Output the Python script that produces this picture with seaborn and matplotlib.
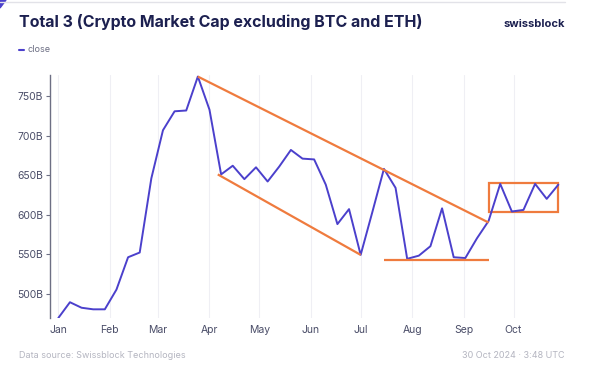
import pandas as pd
import matplotlib
matplotlib.use('Agg')
import matplotlib.pyplot as plt
import matplotlib.dates as mdates
from matplotlib.patches import Rectangle, Polygon
import seaborn as sns

# Weekly close of Total 3 (billions USD), 2024
weeks = pd.date_range("2024-01-01", "2024-10-28", freq="7D")
close = [469, 489, 482, 480, 480, 505, 546, 552, 646, 707,
         731, 732, 775, 733, 651, 662, 645, 660, 642, 661,
         682, 671, 670, 638, 588, 607, 549, 603, 658, 634,
         544, 548, 560, 608, 546, 545, 570, 592, 639, 604,
         606, 639, 620, 638]

# Hand-drawn annotations (date, value)
upper_trend_dates = ["2024-03-25", "2024-09-16"]
upper_trend_vals = [775, 590]
lower_trend_dates = ["2024-04-06", "2024-07-01"]
lower_trend_vals = [651, 549]
support_dates = ["2024-07-15", "2024-09-16"]
support_vals = [542, 542]
range_box_dates = ["2024-09-16", "2024-10-28"]
range_box_vals = [603, 640]

y_ticks = [500, 550, 600, 650, 700, 750]

df = pd.DataFrame({"date": weeks, "close": close})

sns.set_theme(style="white")
plt.rcParams['font.family'] = ['Inter', 'DejaVu Sans']

BLUE = '#4b40cc'
ORANGE = '#ef7b3e'
NAVY = '#1c2050'
TICK = '#4a4d68'

fig = plt.figure(figsize=(6.07, 3.71), dpi=100)
ax = fig.add_axes([50 / 607, 1 - 318 / 371, (565 - 50) / 607, (318 - 75) / 371])

sns.lineplot(data=df, x="date", y="close", color=BLUE, lw=1.4, ax=ax)

orange_kw = dict(color=ORANGE, lw=1.6, solid_capstyle='butt')
ax.plot(pd.to_datetime(upper_trend_dates), upper_trend_vals, **orange_kw)
ax.plot(pd.to_datetime(lower_trend_dates), lower_trend_vals, **orange_kw)
ax.plot(pd.to_datetime(support_dates), support_vals, **orange_kw)
bx = mdates.date2num(pd.to_datetime(range_box_dates))
ax.add_patch(Rectangle((bx[0], range_box_vals[0]), bx[1] - bx[0],
                       range_box_vals[1] - range_box_vals[0],
                       fill=False, edgecolor=ORANGE, lw=1.6))

ax.set_xlim(pd.Timestamp("2023-12-27"), pd.Timestamp("2024-11-01"))
ax.set_ylim(469, 777)
ax.xaxis.set_major_locator(mdates.MonthLocator(bymonth=range(1, 11)))
ax.xaxis.set_major_formatter(mdates.DateFormatter('%b'))
ax.set_yticks(y_ticks)
ax.set_yticklabels([f"{v}B" for v in y_ticks])
ax.set_xlabel('')
ax.set_ylabel('')

ax.grid(axis='x', color='#efeff4', lw=0.8)
for s in ['top', 'right', 'bottom']:
    ax.spines[s].set_visible(False)
ax.spines['left'].set_color('#6d6f84')
ax.spines['left'].set_linewidth(1.0)
ax.tick_params(axis='y', length=3, width=0.8, color='#6d6f84',
               labelsize=7.5, labelcolor=TICK, pad=2, left=True)
ax.tick_params(axis='x', length=0, labelsize=7.5, labelcolor=TICK, pad=5)

# header / footer
fig.text(19 / 607, 1 - 22 / 371, "Total 3 (Crypto Market Cap excluding BTC and ETH)",
         fontsize=11.5, fontweight='bold', color=NAVY, va='center', ha='left')
fig.text(565 / 607, 1 - 24 / 371, "swissblock", fontsize=8, fontweight='bold',
         color=NAVY, va='center', ha='right')
fig.lines.append(plt.Line2D([19 / 607, 24 / 607], [1 - 50 / 371] * 2, color=BLUE, lw=1.5,
                            transform=fig.transFigure))
fig.text(28 / 607, 1 - 50 / 371, "close", fontsize=6.5, color='#6d6f84', va='center', ha='left')
fig.text(19 / 607, 1 - 356 / 371, "Data source: Swissblock Technologies", fontsize=6.5,
         color='#b4b5c0', va='center', ha='left')
fig.text(565 / 607, 1 - 356 / 371, "30 Oct 2024 · 3:48 UTC", fontsize=6.5,
         color='#b4b5c0', va='center', ha='right')
fig.lines.append(plt.Line2D([0, 565 / 607], [1 - 1.5 / 371] * 2, color='#e2e2e8', lw=1,
                            transform=fig.transFigure))
fig.patches.append(Polygon([[0, 1], [6 / 607, 1], [0, 1 - 8 / 371]], closed=True,
                           color=BLUE, transform=fig.transFigure))

fig.savefig("out.png", dpi=100)
